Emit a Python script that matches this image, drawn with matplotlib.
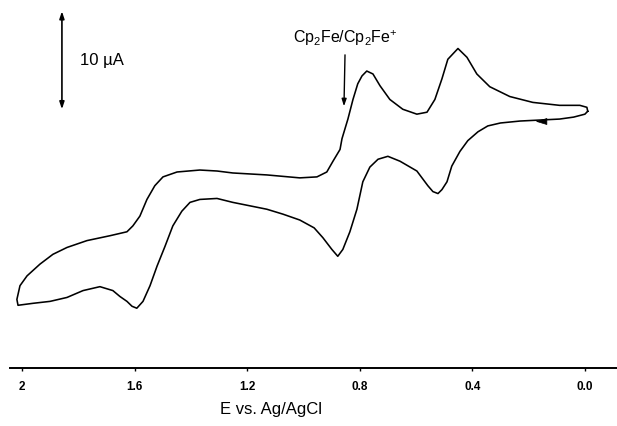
import matplotlib
matplotlib.use("Agg")
import matplotlib.pyplot as plt

plt.rcParams["font.family"] = ["Liberation Sans", "DejaVu Sans"]
plt.rcParams["mathtext.fontset"] = "custom"
plt.rcParams["mathtext.rm"] = "Liberation Sans"

# ============================================================
# cyclic voltammogram (E in V, I in uA, arbitrary offset)
# forward scan (lower branch, 0.0 V -> 2.0 V)
E_fwd = [-0.01, 0.00, 0.04, 0.09, 0.16, 0.23, 0.30, 0.345, 0.38, 0.416, 0.444, 0.473,
         0.49, 0.508, 0.522, 0.54, 0.558, 0.597, 0.657, 0.70, 0.735, 0.764, 0.789,
         0.81, 0.835, 0.86, 0.878, 0.899, 0.931, 0.962, 1.013, 1.073, 1.13, 1.251,
         1.307, 1.368, 1.403, 1.432, 1.464, 1.492, 1.52, 1.545, 1.57, 1.592, 1.609,
         1.627, 1.652, 1.677, 1.723, 1.783, 1.84, 1.90, 1.961, 2.014]
I_fwd = [26.2, 25.9, 25.6, 25.4, 25.3, 25.2, 25.0, 24.7, 24.1, 23.2, 22.1, 20.6,
         19.0, 18.2, 17.8, 18.0, 18.6, 20.1, 21.1, 21.6, 21.3, 20.5, 19.0,
         16.2, 13.9, 12.1, 11.4, 12.1, 13.3, 14.3, 15.1, 15.7, 16.2, 16.9,
         17.3, 17.2, 16.9, 16.0, 14.5, 12.4, 10.4, 8.4, 6.8, 6.1, 6.3,
         6.8, 7.3, 7.9, 8.3, 7.9, 7.2, 6.8, 6.6, 6.4]

# reverse scan (upper branch, 2.0 V -> 0.0 V)
E_rev = [2.018, 2.007, 1.982, 1.936, 1.89, 1.84, 1.769, 1.687, 1.627, 1.606, 1.581,
         1.556, 1.528, 1.499, 1.449, 1.368, 1.307, 1.251, 1.13, 1.013, 0.952, 0.917,
         0.895, 0.87, 0.863, 0.842, 0.824, 0.807, 0.792, 0.775, 0.753, 0.728, 0.693,
         0.647, 0.597, 0.561, 0.533, 0.508, 0.487, 0.451, 0.419, 0.384, 0.338, 0.267,
         0.185, 0.09, 0.018, -0.007, -0.01]
I_rev = [7.0, 8.4, 9.4, 10.6, 11.6, 12.3, 13.0, 13.5, 13.9, 14.5, 15.5,
         17.2, 18.6, 19.5, 20.0, 20.2, 20.1, 19.9, 19.7, 19.4, 19.5, 20.0,
         21.1, 22.3, 23.4, 25.4, 27.4, 29.0, 29.8, 30.3, 30.0, 28.8, 27.4,
         26.4, 25.9, 26.1, 27.4, 29.5, 31.5, 32.6, 31.7, 30.0, 28.7, 27.7,
         27.1, 26.8, 26.8, 26.6, 26.2]

xticks = [2.0, 1.6, 1.2, 0.8, 0.4, 0.0]
xtick_labels = ["2", "1.6", "1.2", "0.8", "0.4", "0.0"]

scale_uA = 10          # scale bar
scale_E, scale_base = 1.858, 26.4
fc_E, fc_tip, fc_tail = 0.856, 26.7, 32.2   # ferrocene marker
dir_tip, dir_tail, dir_I = 0.175, 0.14, 25.15  # scan direction arrow

# ============================================================
fig = plt.figure(figsize=(6.17, 4.27), dpi=100)
ax = fig.add_axes([0, 0.1358, 1, 0.8642])

E = E_fwd + E_rev
I = I_fwd + I_rev
ax.plot(E, I, color="black", linewidth=1.15, solid_joinstyle="round")

ax.set_xlim(2.078, -0.114)
ax.set_ylim(0, 37.65)

for s in ["top", "right", "left"]:
    ax.spines[s].set_visible(False)
ax.spines["bottom"].set_linewidth(1.4)
ax.spines["bottom"].set_bounds(2.043, -0.114)
ax.set_yticks([])
ax.set_xticks(xticks)
ax.set_xticklabels(xtick_labels, fontsize=8.5, fontweight="bold")
ax.tick_params(axis="x", direction="out", length=2.5, width=1, pad=6)

fig.text(0.44, 0.04, "E vs. Ag/AgCl", fontsize=12, ha="center", va="center")

# scale bar
ax.annotate("", xy=(scale_E, scale_base + scale_uA), xytext=(scale_E, scale_base),
            arrowprops=dict(arrowstyle="<|-|>,head_length=0.6,head_width=0.2",
                            color="black", lw=1.2,
                            mutation_scale=7, shrinkA=0, shrinkB=0))
ax.text(1.795, scale_base + scale_uA / 2 + 0.1, "10 \u00b5A", fontsize=12,
        ha="left", va="center")

# ferrocene reference
ax.annotate(r"Cp$_\mathregular{2}$Fe/Cp$_\mathregular{2}$Fe$^\mathregular{+}$",
            xy=(fc_E, fc_tip), xytext=(fc_E - 0.005, fc_tail + 1.6),
            fontsize=11.5, ha="center", va="center",
            arrowprops=dict(arrowstyle="-|>,head_length=0.6,head_width=0.2",
                            color="black", lw=1.0,
                            mutation_scale=7, shrinkA=4, shrinkB=0))

# scan direction
ax.annotate("", xy=(dir_tip, dir_I), xytext=(dir_tail, dir_I),
            arrowprops=dict(arrowstyle="-|>,head_length=0.6,head_width=0.18",
                            color="black", lw=0.5,
                            mutation_scale=12, shrinkA=0, shrinkB=0))

plt.savefig("out.png", dpi=100)
